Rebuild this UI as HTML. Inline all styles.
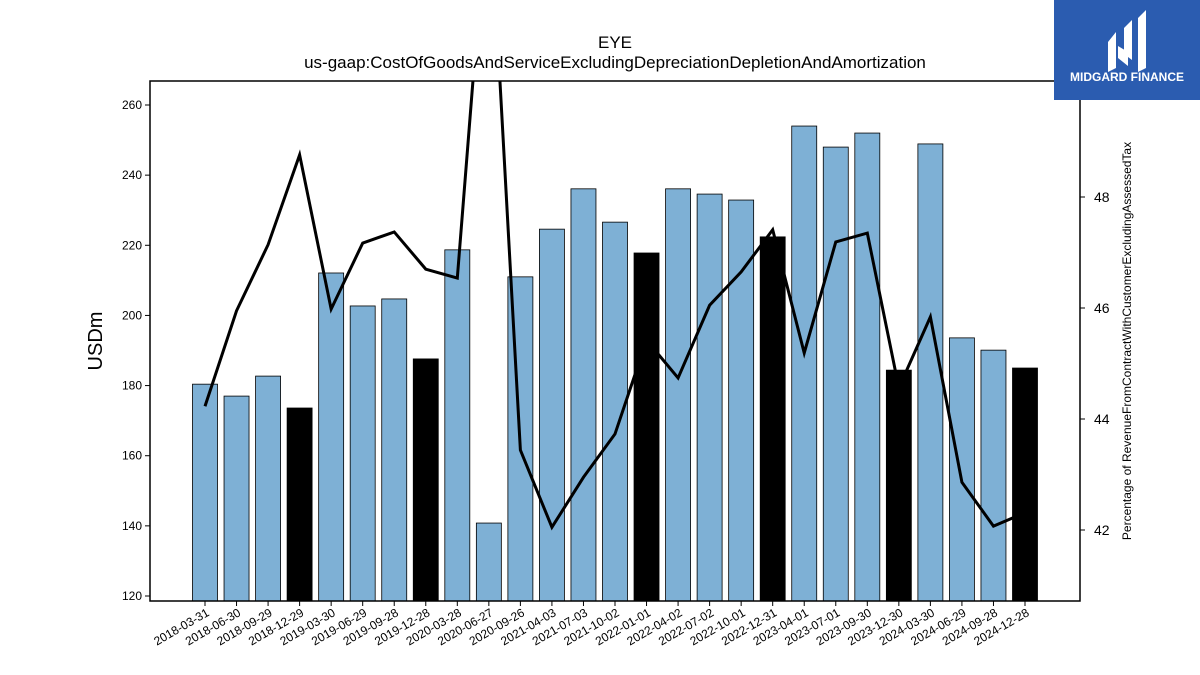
<!DOCTYPE html>
<html><head><meta charset="utf-8"><style>
body{margin:0;background:#fff;width:1200px;height:675px;overflow:hidden;font-family:"Liberation Sans","DejaVu Sans",sans-serif}
svg{display:block}
</style></head><body>
<svg id="chart" width="1200" height="675">
<text x="615" y="48" text-anchor="middle" font-size="17">EYE</text>
<text x="615" y="68" text-anchor="middle" font-size="17">us-gaap:CostOfGoodsAndServiceExcludingDepreciationDepletionAndAmortization</text>
<g id="bars"></g>
<g id="line"></g>
<rect x="150" y="81" width="930" height="520" fill="none" stroke="#000" stroke-width="1.5"/>
<g id="yl"></g>
<g id="yr"></g>
<g id="xl"></g>
<text transform="translate(102,341) rotate(-90)" text-anchor="middle" font-size="20">USDm</text>
<text transform="translate(1131,341) rotate(-90)" text-anchor="middle" font-size="12">Percentage of RevenueFromContractWithCustomerExcludingAssessedTax</text>
<g>
<rect x="1054" y="0" width="146" height="100" fill="#2b5cb0"/>
<path d="M1108 42 L1116 32 L1116 68 L1108 72 Z M1124 28 L1132 20 L1132 60 L1124 54 Z M1138 18 L1146 10 L1146 68 L1138 72 Z M1118 46 L1128 52 L1128 66 L1118 58 Z" fill="#fff"/>
<text x="1127" y="81" text-anchor="middle" font-size="12" font-weight="bold" fill="#fff">MIDGARD FINANCE</text>
</g>
</svg>
<script>
const categories=["2018-03-31","2018-06-30","2018-09-29","2018-12-29","2019-03-30","2019-06-29","2019-09-28","2019-12-28","2020-03-28","2020-06-27","2020-09-26","2021-04-03","2021-07-03","2021-10-02","2022-01-01","2022-04-02","2022-07-02","2022-10-01","2022-12-31","2023-04-01","2023-07-01","2023-09-30","2023-12-30","2024-03-30","2024-06-29","2024-09-28","2024-12-28"];
const costValues=[180.4,177.0,182.7,173.6,212.1,202.7,204.7,187.6,218.7,140.8,211.0,224.6,236.1,226.6,217.8,236.1,234.6,232.9,222.4,254.0,248.0,252.0,184.4,248.9,193.6,190.1,185.0];
const fiscalYearEnd=[0,0,0,1,0,0,0,1,0,0,0,0,0,0,1,0,0,0,1,0,0,0,1,0,0,0,1];
const pctValues=[44.23,45.95,47.14,48.76,45.98,47.17,47.37,46.70,46.54,53.7,43.44,42.05,42.95,43.73,45.42,44.74,46.05,46.65,47.41,45.19,47.19,47.35,44.56,45.84,42.86,42.07,42.31];
const leftTicks=[120,140,160,180,200,220,240,260];
const rightTicks=[42,44,46,48];
const NS="http://www.w3.org/2000/svg";
const X0=150,X1=1080,Y0=81,Y1=601;
const yL=v=>596-(v-120)*(491/140);
const yR=v=>197+(48-v)*(333/6);
const xC=i=>205+i*((1025-205)/(categories.length-1));
function mk(t,p,a){const e=document.createElementNS(NS,t);for(const k in a)e.setAttribute(k,a[k]);p.appendChild(e);return e;}
const bars=document.getElementById('bars');
costValues.forEach((v,i)=>{
 const y=yL(v);
 const r=mk('rect',bars,{x:xC(i)-12.5,y:y,width:25,height:Y1-y,fill:fiscalYearEnd[i]?'#000':'#7eb0d5',stroke:'#000','stroke-width':0.8});
 
 
});
const lg=document.getElementById('line');
mk('clipPath',lg,{id:'cp'}).appendChild(Object.assign(document.createElementNS(NS,'rect'),{}));
document.querySelector('#cp rect').setAttribute('x',X0);
document.querySelector('#cp rect').setAttribute('y',Y0);
document.querySelector('#cp rect').setAttribute('width',X1-X0);
document.querySelector('#cp rect').setAttribute('height',Y1-Y0);
const pl=mk('polyline',lg,{points:pctValues.map((v,i)=>xC(i)+','+yR(v)).join(' '),fill:'none',stroke:'#000','stroke-width':3,'clip-path':'url(#cp)'});


const yl=document.getElementById('yl');
leftTicks.forEach(t=>{const y=yL(t);mk('line',yl,{x1:X0-5,x2:X0,y1:y,y2:y,stroke:'#000'});
 const tx=mk('text',yl,{x:X0-8,y:y+4,'text-anchor':'end','font-size':12});tx.textContent=t;
 
 });
const yr=document.getElementById('yr');
rightTicks.forEach(t=>{const y=yR(t);mk('line',yr,{x1:X1,x2:X1+5,y1:y,y2:y,stroke:'#000'});
 const tx=mk('text',yr,{x:X1+14,y:y+5,'font-size':14});tx.textContent=t;
 
 });
const xl=document.getElementById('xl');
categories.forEach((c,i)=>{const x=xC(i);mk('line',xl,{x1:x,x2:x,y1:Y1,y2:Y1+5,stroke:'#000'});
 const tx=mk('text',xl,{transform:`translate(${x+5},${Y1+14}) rotate(-30)`,'text-anchor':'end','font-size':12});tx.textContent=c;
 
 });
</script>
</body></html>
